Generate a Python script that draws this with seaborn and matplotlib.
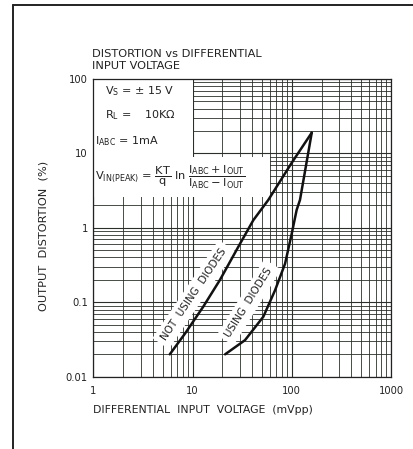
import numpy as np
import pandas as pd
import matplotlib
matplotlib.use("Agg")
import matplotlib.pyplot as plt
from matplotlib.lines import Line2D
from matplotlib.patches import Rectangle
import seaborn as sns

# ---- data ----
x_not_using = [5.9, 8.4, 12.8, 18.9, 29, 41, 58, 100, 159]
y_not_using = [0.02, 0.038, 0.087, 0.2, 0.56, 1.27, 2.37, 7.5, 19]
x_using = [21.3, 33.8, 51.7, 68, 85.6, 100, 112, 121, 139, 159]
y_using = [0.02, 0.031, 0.064, 0.146, 0.33, 0.84, 1.74, 2.37, 6.8, 19]
x_ticks = [1, 10, 100, 1000]
x_tick_labels = ["1", "10", "100", "1000"]
y_ticks = [0.01, 0.1, 1, 10, 100]
y_tick_labels = ["0.01", "0.1", "1", "10", "100"]

df = pd.concat([
    pd.DataFrame({"vin": x_not_using, "dist": y_not_using, "series": "NOT USING DIODES"}),
    pd.DataFrame({"vin": x_using, "dist": y_using, "series": "USING DIODES"}),
])

sns.set_style("white")
plt.rcParams["font.family"] = ["DejaVu Sans"]
plt.rcParams["mathtext.default"] = "regular"

fig = plt.figure(figsize=(4.14, 4.49), dpi=100)
ax = fig.add_axes([0.2254, 0.161, 0.719, 0.663])

sns.lineplot(data=df, x="vin", y="dist", hue="series", sort=False,
             palette=["#111111", "#111111"], linewidth=1.8, legend=False,
             ax=ax, zorder=3)

ax.set_xscale("log")
ax.set_yscale("log")
ax.set_xlim(1, 1000)
ax.set_ylim(0.01, 100)

ax.set_xticks(x_ticks)
ax.set_xticklabels(x_tick_labels)
ax.set_yticks(y_ticks)
ax.set_yticklabels(y_tick_labels)
ax.tick_params(axis="both", which="both", length=0, labelsize=7.2, colors="#222222")
ax.tick_params(axis="x", pad=7)
ax.tick_params(axis="y", pad=4)

ax.grid(True, which="major", color="#2a2f2a", linewidth=0.8)
ax.grid(True, which="minor", color="#2a2f2a", linewidth=0.6)
ax.set_axisbelow(True)
for s in ax.spines.values():
    s.set_color("#222222")
    s.set_linewidth(0.9)

# white panels covering grid (annotation area)
ax.add_patch(Rectangle((0, 0.738), 0.335, 0.262, transform=ax.transAxes,
                       facecolor="white", edgecolor="none", zorder=1))
ax.add_patch(Rectangle((0, 0.603), 0.593, 0.136, transform=ax.transAxes,
                       facecolor="white", edgecolor="none", zorder=1))

# annotation texts
tc = "#222222"
ax.text(0.04, 0.958, r"$V_S$ = ± 15 V", transform=ax.transAxes, fontsize=8,
        color=tc, va="center", zorder=4)
ax.text(0.04, 0.88, r"$R_L$ =    10K$\Omega$", transform=ax.transAxes, fontsize=8,
        color=tc, va="center", zorder=4)
ax.text(0.006, 0.79, r"$I_{ABC}$ = 1mA", transform=ax.transAxes, fontsize=8,
        color=tc, va="center", zorder=4)
ax.text(0.006, 0.668,
        r"$V_{IN(PEAK)}$ = $\dfrac{KT}{q}$ ln $\dfrac{I_{ABC}+I_{OUT}}{I_{ABC}-I_{OUT}}$",
        transform=ax.transAxes, fontsize=8.2, color=tc, va="center", zorder=4)

# curve labels
ax.text(10.3, 0.127, "NOT  USING  DIODES", rotation=56, fontsize=7.5, color=tc,
        ha="center", va="center", rotation_mode="anchor", zorder=2,
        bbox=dict(facecolor="white", edgecolor="none", pad=3.5))
ax.text(37, 0.1, "USING  DIODES", rotation=58, fontsize=7.5, color=tc,
        ha="center", va="center", rotation_mode="anchor", zorder=2,
        bbox=dict(facecolor="white", edgecolor="none", pad=3.5))

# axis labels and title
ax.set_xlabel("DIFFERENTIAL  INPUT  VOLTAGE  (mVpp)", fontsize=7.8, color=tc,
              loc="left")
ax.xaxis.set_label_coords(0.0, -0.095)
ax.xaxis.label.set_ha("left")
ax.set_ylabel("OUTPUT  DISTORTION  (%)", fontsize=8.2, color=tc)
ax.yaxis.set_label_coords(-0.152, 0.473)

fig.text(92 / 414, 1 - 54 / 449, "DISTORTION vs DIFFERENTIAL", fontsize=8.2,
         color=tc, va="center", ha="left")
fig.text(92 / 414, 1 - 66 / 449, "INPUT VOLTAGE", fontsize=8.2,
         color=tc, va="center", ha="left")

# outer frame (top and left only)
fig.add_artist(Line2D([13 / 414, 1.0], [1 - 5 / 449, 1 - 5 / 449],
                      transform=fig.transFigure, color="#222222", linewidth=1.4))
fig.add_artist(Line2D([13 / 414, 13 / 414], [0.0, 1 - 5 / 449],
                      transform=fig.transFigure, color="#222222", linewidth=1.4))

fig.savefig("out.png", dpi=100, facecolor="white")
